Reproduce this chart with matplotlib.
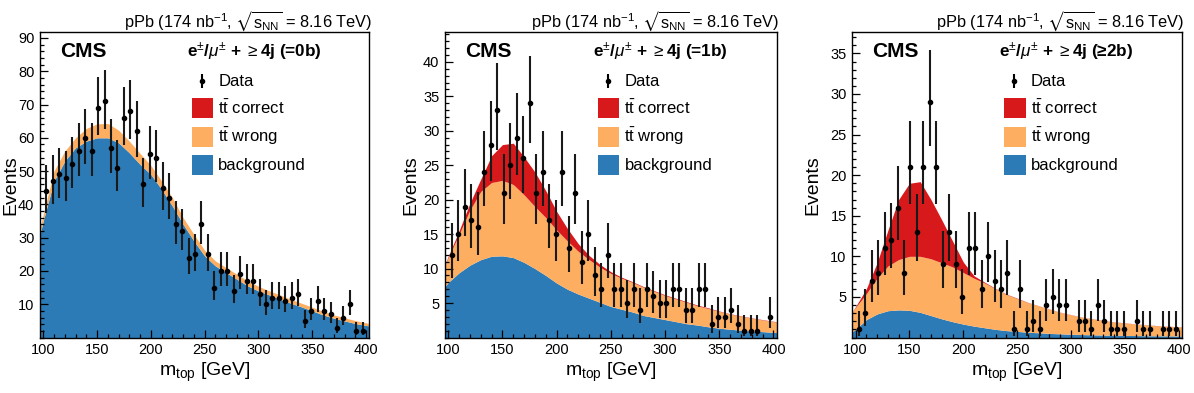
import numpy as np
import matplotlib.pyplot as plt
from matplotlib.patches import Rectangle
from matplotlib.ticker import MultipleLocator

plt.rcParams['font.family'] = ['Liberation Sans', 'DejaVu Sans']
plt.rcParams['mathtext.fontset'] = 'custom'
plt.rcParams['mathtext.rm'] = 'Liberation Sans'
plt.rcParams['mathtext.it'] = 'Liberation Sans:italic'
plt.rcParams['mathtext.bf'] = 'Liberation Sans:bold'
plt.rcParams['mathtext.fallback'] = 'stixsans'

# m_top histogram: 50 bins of 6 GeV from 100 to 400 GeV
bin_lo, bin_hi, n_bins = 100, 400, 50

data_0b = [44, 47, 49, 48, 52, 56, 60, 56, 69, 71, 57, 51, 66, 68, 62, 46, 55, 54, 45, 42,
           34, 32, 24, 25, 34, 25, 15, 20, 20, 14, 19, 17, 17, 13, 10, 12, 12, 11, 12, 13,
           5, 8, 11, 8, 7, 3, 6, 10, 2, 2]
data_1b = [12, 15, 19, 17, 16, 24, 28, 33, 21, 25, 29, 26, 34, 21, 24, 17, 15, 24, 13, 21,
           11, 15, 9, 7, 12, 7, 7, 5, 7, 4, 7, 6, 5, 5, 7, 7, 4, 4, 7, 7,
           2, 3, 3, 4, 2, 1, 1, 1, 0, 3]
data_2b = [1, 3, 7, 8, 11, 12, 16, 8, 21, 13, 21, 29, 21, 9, 13, 9, 5, 11, 11, 6,
           10, 7, 6, 8, 1, 6, 1, 2, 1, 4, 5, 4, 4, 0, 2, 2, 1, 4, 2, 1,
           1, 1, 0, 2, 1, 1, 0, 1, 1, 1]

# fitted templates, read at these masses (stacked: bkg, +tt wrong, +tt correct)
mass_nodes = [97, 100, 110, 120, 130, 140, 150, 160, 170, 180, 190, 200, 210, 220, 230, 240,
              250, 260, 270, 280, 290, 300, 310, 320, 330, 340, 350, 360, 370, 380, 390, 400, 403]

bkg_0b = [31, 35, 47, 53, 57, 59, 60, 60, 58.5, 55.5, 52, 49, 44.5, 39.5, 34, 29,
          24.5, 21.5, 19.5, 17.5, 15.5, 14, 12.8, 11.5, 10.3, 9.2, 8, 6.8, 5.8, 5, 4.2, 3.6, 3.5]
wrong_0b = [33, 37, 50, 56, 60, 62.8, 64.2, 64.3, 62.3, 59, 55.3, 51.7, 47, 42, 36, 31,
            26.2, 23, 21, 19, 17, 15.4, 14, 12.8, 11.5, 10.3, 9.1, 7.9, 6.8, 5.9, 5.1, 4.4, 4.2]
correct_0b = wrong_0b  # tt correct is negligible with no b tag

bkg_1b = [7.4, 8.0, 9.4, 10.5, 11.3, 11.8, 11.85, 11.6, 10.9, 10.0, 9.0, 7.9, 7.0, 6.3, 5.7, 5.1,
          4.5, 4.1, 3.7, 3.2, 2.9, 2.6, 2.3, 2.0, 1.8, 1.55, 1.35, 1.2, 1.05, 0.95, 0.85, 0.75, 0.72]
wrong_1b = [10.5, 11.6, 15.0, 18.5, 21.2, 22.5, 22.8, 22.2, 20.7, 19.0, 17.4, 15.6, 14.0, 12.5, 11.3, 10.2,
            9.3, 8.6, 8.0, 7.3, 6.7, 6.1, 5.6, 5.1, 4.6, 4.2, 3.8, 3.4, 3.1, 2.8, 2.55, 2.3, 2.25]
correct_1b = [10.6, 11.8, 15.5, 19.5, 23.0, 26.4, 28.0, 28.2, 26.2, 24.0, 21.3, 18.3, 15.8, 13.6, 11.9, 10.6,
              9.55, 8.75, 8.1, 7.4, 6.8, 6.2, 5.7, 5.2, 4.7, 4.3, 3.85, 3.45, 3.15, 2.85, 2.6, 2.35, 2.3]

bkg_2b = [0.7, 1.0, 2.2, 2.9, 3.3, 3.4, 3.35, 3.1, 2.7, 2.3, 1.95, 1.65, 1.4, 1.2, 1.0, 0.85,
          0.75, 0.65, 0.58, 0.5, 0.45, 0.4, 0.36, 0.33, 0.3, 0.28, 0.26, 0.24, 0.22, 0.21, 0.2, 0.19, 0.19]
wrong_2b = [3.2, 3.7, 5.4, 7.3, 8.8, 9.6, 10.0, 10.0, 9.7, 9.2, 8.7, 8.0, 7.3, 6.7, 6.0, 5.3,
            4.8, 4.3, 3.9, 3.5, 3.1, 2.8, 2.5, 2.3, 2.1, 1.9, 1.8, 1.65, 1.55, 1.45, 1.38, 1.3, 1.3]
correct_2b = [3.2, 3.8, 6.0, 9.2, 13.2, 17.0, 19.0, 19.2, 17.0, 14.5, 11.9, 9.3, 7.6, 6.8, 6.05, 5.35,
              4.85, 4.33, 3.92, 3.52, 3.12, 2.82, 2.52, 2.32, 2.12, 1.92, 1.82, 1.67, 1.57, 1.47, 1.4, 1.32, 1.32]

categories = ['(=0b)', '(=1b)', '(\u22652b)']
y_tops = [91.7, 44.3, 37.6]
y_major = [10, 5, 5]
y_minor = [2, 1, 1]

c_red = '#d7191c'
c_orange = '#fdae61'
c_blue = '#2c7bb6'

fig = plt.figure(figsize=(11.94, 3.93), dpi=100)
W, H = 1194, 393
frames = [(40, 369.3), (445, 776.7), (852.3, 1182)]
ylab_x = [-0.088, -0.102, -0.12]
top_px, bot_px = 32.3, 337.5

panels = [(data_0b, bkg_0b, wrong_0b, correct_0b),
          (data_1b, bkg_1b, wrong_1b, correct_1b),
          (data_2b, bkg_2b, wrong_2b, correct_2b)]

centers = bin_lo + (np.arange(n_bins) + 0.5) * (bin_hi - bin_lo) / n_bins

for k, (counts, bkg, wrong, correct) in enumerate(panels):
    l, r = frames[k]
    ax = fig.add_axes([l / W, (H - bot_px) / H, (r - l) / W, (bot_px - top_px) / H])

    ax.fill_between(mass_nodes, 0, bkg, color=c_blue, lw=0)
    ax.fill_between(mass_nodes, bkg, wrong, color=c_orange, lw=0)
    ax.fill_between(mass_nodes, wrong, correct, color=c_red, lw=0)

    n = np.array(counts, dtype=float)
    keep = n > 0
    nn = n[keep]
    err_up = np.sqrt(nn + 0.75) + 1
    err_lo = nn - nn * (1 - 1 / (9 * nn) - 1 / (3 * np.sqrt(nn))) ** 3
    ax.errorbar(centers[keep], nn, yerr=[err_lo, err_up], fmt='o', color='black',
                ecolor='#1a1a1a', ms=3, elinewidth=1.5, capsize=0, zorder=5)

    ax.set_xlim(97, 403)
    ax.set_ylim(0, y_tops[k])
    ax.xaxis.set_major_locator(MultipleLocator(50))
    ax.xaxis.set_minor_locator(MultipleLocator(10))
    ax.set_yticks(np.arange(y_major[k], y_tops[k], y_major[k]))
    ax.yaxis.set_minor_locator(MultipleLocator(y_minor[k]))
    ax.tick_params(which='both', direction='in', top=False, right=False, labelsize=10.5, pad=4)
    ax.tick_params(which='major', length=6, width=0.9)
    ax.tick_params(which='minor', length=3, width=0.9)
    for s in ax.spines.values():
        s.set_linewidth(1.0)

    ax.text(0.5, -0.113, r'm$_{\mathrm{top}}$ [GeV]', transform=ax.transAxes,
            ha='center', va='center', fontsize=14)
    ax.text(ylab_x[k], 0.5, 'Events', transform=ax.transAxes, rotation=90,
            ha='center', va='center', fontsize=14)
    ax.text(1.008, 1.034, r'pPb (174 nb$^{\mathrm{-1}}$, $\sqrt{\mathrm{s}_{\mathrm{NN}}}$ = 8.16 TeV)',
            transform=ax.transAxes, ha='right', va='center', fontsize=11.8)

    ax.text(0.061, 0.936, 'CMS', transform=ax.transAxes, ha='left', va='center',
            fontsize=15, fontweight='bold')
    ax.text(0.446, 0.935, r'$\mathbf{e}^{\pm}$/$\mu^{\pm}$ + $\geq$4j ' + categories[k],
            transform=ax.transAxes, ha='left', va='center', fontsize=12.3, fontweight='bold')

    # legend
    ax.errorbar([0.491], [0.840], yerr=[[0.022], [0.022]], fmt='o', color='black', ms=3,
                elinewidth=1.5, capsize=0, transform=ax.transAxes, clip_on=False)
    ax.text(0.541, 0.840, 'Data', transform=ax.transAxes, ha='left', va='center', fontsize=12)
    rows = [(0.751, c_red, r'$\mathrm{t\bar{t}}$ correct'),
            (0.658, c_orange, r'$\mathrm{t\bar{t}}$ wrong'),
            (0.565, c_blue, 'background')]
    for yc, col, lab in rows:
        ax.add_patch(Rectangle((0.461, yc - 0.033), 0.065, 0.066, transform=ax.transAxes,
                               facecolor=col, edgecolor='none'))
        ax.text(0.541, yc, lab, transform=ax.transAxes, ha='left', va='center', fontsize=12)

fig.savefig('out.png', dpi=100)
